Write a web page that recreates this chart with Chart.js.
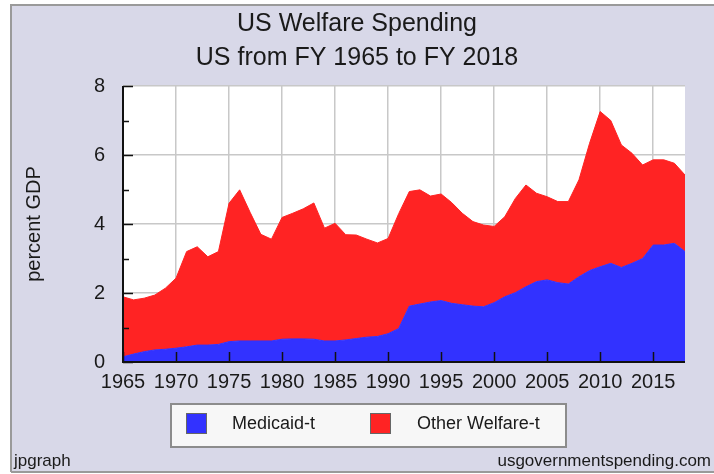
<!DOCTYPE html>
<html>
<head>
<meta charset="utf-8">
<script src="https://cdn.jsdelivr.net/npm/chart.js@4.4.1/dist/chart.umd.min.js"></script>
<style>
  html, body { margin: 0; padding: 0; background: #ffffff; }
  #wrap { width: 714px; height: 474px; position: relative; }
</style>
</head>
<body>
<div id="wrap"><canvas id="c" width="714" height="474"></canvas></div>
<script>
const years = [1965,1966,1967,1968,1969,1970,1971,1972,1973,1974,1975,1976,1977,1978,1979,1980,1981,1982,1983,1984,1985,1986,1987,1988,1989,1990,1991,1992,1993,1994,1995,1996,1997,1998,1999,2000,2001,2002,2003,2004,2005,2006,2007,2008,2009,2010,2011,2012,2013,2014,2015,2016,2017,2018];

const medicaid = [0.15,0.23,0.30,0.35,0.37,0.40,0.44,0.49,0.49,0.51,0.59,0.61,0.61,0.61,0.61,0.66,0.67,0.67,0.66,0.61,0.61,0.64,0.68,0.72,0.74,0.82,0.97,1.62,1.68,1.74,1.78,1.70,1.66,1.62,1.60,1.72,1.89,2.01,2.18,2.33,2.38,2.30,2.26,2.47,2.65,2.76,2.86,2.74,2.86,3.00,3.39,3.39,3.44,3.20];

const otherWelfare = [1.74,1.57,1.55,1.59,1.77,2.03,2.76,2.85,2.56,2.69,4.01,4.38,3.72,3.09,2.95,3.53,3.64,3.77,3.95,3.27,3.41,3.05,3.00,2.84,2.71,2.76,3.33,3.32,3.31,3.07,3.09,2.92,2.65,2.45,2.37,2.21,2.32,2.73,2.95,2.56,2.41,2.35,2.39,2.81,3.69,4.50,4.14,3.55,3.19,2.71,2.47,2.47,2.32,2.22];

const yTicks = [0, 2, 4, 6, 8];
const xTickYears = [1965,1970,1975,1980,1985,1990,1995,2000,2005,2010,2015];
const seriesNames = ['Medicaid-t', 'Other Welfare-t'];
const titleLines = ['US Welfare Spending', 'US from FY 1965 to FY 2018'];
const yAxisTitle = 'percent GDP';
const footerLeft = 'jpgraph';
const footerRight = 'usgovernmentspending.com';

const FONT = "'Liberation Sans', Arial, sans-serif";
const BLUE = '#3232ff';
const RED = '#ff2323';
const LAVENDER = '#d8d8e8';

const decorPlugin = {
  id: 'decor',
  beforeDraw(chart) {
    const ctx = chart.ctx;
    const a = chart.chartArea;
    ctx.save();
    ctx.fillStyle = '#ffffff';
    ctx.fillRect(0, 0, chart.width, chart.height);
    ctx.fillStyle = LAVENDER;
    ctx.fillRect(10, 5, chart.width - 10, chart.height - 7);
    ctx.strokeStyle = '#9a9a9a';
    ctx.lineWidth = 2;
    ctx.beginPath();
    ctx.moveTo(11, chart.height - 2);
    ctx.lineTo(11, 5);
    ctx.lineTo(chart.width, 5);
    ctx.moveTo(11, chart.height - 2);
    ctx.lineTo(chart.width, chart.height - 2);
    ctx.stroke();
    ctx.fillStyle = '#ffffff';
    ctx.fillRect(a.left, a.top, a.right - a.left, a.bottom - a.top);
    ctx.restore();
  },
  afterDatasetsDraw(chart) {
    const ctx = chart.ctx;
    const a = chart.chartArea;
    const xs = chart.scales.x, ys = chart.scales.y;
    ctx.save();
    ctx.strokeStyle = '#111111';
    ctx.lineWidth = 2;
    ctx.beginPath();
    ctx.moveTo(a.left, a.top);
    ctx.lineTo(a.left, a.bottom);
    ctx.lineTo(a.right, a.bottom);
    ctx.stroke();
    ctx.lineWidth = 1.5;
    ctx.beginPath();
    for (let v = 0; v <= 8; v++) {
      const py = Math.round(ys.getPixelForValue(v)) + 0.5;
      const len = (v % 2 === 0) ? 10 : 6;
      ctx.moveTo(a.left, py);
      ctx.lineTo(a.left + len, py);
    }
    xTickYears.forEach(yr => {
      const px = Math.round(xs.getPixelForValue(years.indexOf(yr))) + 0.5;
      ctx.moveTo(px, a.bottom);
      ctx.lineTo(px, a.bottom - 10);
    });
    ctx.stroke();
    ctx.restore();
  },
  afterDraw(chart) {
    const ctx = chart.ctx;
    ctx.save();
    // title
    ctx.fillStyle = '#1a1a1a';
    ctx.font = '25px ' + FONT;
    ctx.textAlign = 'center';
    ctx.textBaseline = 'middle';
    ctx.fillText(titleLines[0], 357, 24);
    ctx.fillText(titleLines[1], 357, 58);
    // legend box
    const bx = 171, by = 404, bw = 395, bh = 43;
    ctx.fillStyle = '#f7f7f7';
    ctx.fillRect(bx, by, bw, bh);
    ctx.strokeStyle = '#8c8c8c';
    ctx.lineWidth = 2;
    ctx.strokeRect(bx, by, bw, bh);
    const items = [
      { sx: 186, tx: 232 },
      { sx: 370, tx: 417 }
    ];
    chart.data.datasets.forEach((ds, i) => {
      const it = items[i];
      ctx.fillStyle = ds.backgroundColor;
      ctx.fillRect(it.sx, 413, 21, 21);
      ctx.strokeStyle = '#666666';
      ctx.lineWidth = 1;
      ctx.strokeRect(it.sx + 0.5, 413.5, 20, 20);
      ctx.fillStyle = '#1a1a1a';
      ctx.font = '18px ' + FONT;
      ctx.textAlign = 'left';
      ctx.textBaseline = 'middle';
      ctx.fillText(ds.label, it.tx, 424);
    });
    // footer
    ctx.fillStyle = '#1a1a1a';
    ctx.font = '17px ' + FONT;
    ctx.textBaseline = 'alphabetic';
    ctx.textAlign = 'left';
    ctx.fillText(footerLeft, 14, 466);
    ctx.textAlign = 'right';
    ctx.fillText(footerRight, 711, 466);
    ctx.restore();
  }
};

const ctx = document.getElementById('c').getContext('2d');
new Chart(ctx, {
  type: 'line',
  data: {
    labels: years,
    datasets: [
      {
        label: seriesNames[0],
        data: medicaid,
        backgroundColor: BLUE,
        borderColor: BLUE,
        borderWidth: 1,
        pointRadius: 0,
        tension: 0,
        fill: 'origin'
      },
      {
        label: seriesNames[1],
        data: otherWelfare,
        backgroundColor: RED,
        borderColor: RED,
        borderWidth: 1,
        pointRadius: 0,
        tension: 0,
        fill: '-1'
      }
    ]
  },
  options: {
    responsive: false,
    animation: false,
    devicePixelRatio: 1,
    layout: { padding: { left: 0, right: 29, top: 86, bottom: 0 } },
    plugins: {
      legend: { display: false },
      tooltip: { enabled: false },
      title: { display: false }
    },
    scales: {
      x: {
        type: 'category',
        offset: false,
        grid: {
          drawTicks: false,
          lineWidth: 1.5,
          color: (c) => {
            const yr = years[c.index];
            return (yr % 5 === 0 && yr !== 1965) ? '#c8c8c8' : 'rgba(0,0,0,0)';
          }
        },
        border: { display: false },
        ticks: {
          autoSkip: false,
          maxRotation: 0,
          minRotation: 0,
          padding: 8,
          color: '#1a1a1a',
          font: { family: FONT, size: 20 },
          callback: function (val, idx) {
            const yr = years[idx];
            return xTickYears.includes(yr) ? String(yr) : '';
          }
        },
        afterFit: (s) => { s.height = 112; }
      },
      y: {
        stacked: true,
        min: 0,
        max: 8,
        afterBuildTicks: (s) => { s.ticks = yTicks.map(v => ({ value: v })); },
        grid: {
          drawTicks: false,
          lineWidth: 1.5,
          color: (c) => (c.tick && c.tick.value === 0) ? 'rgba(0,0,0,0)' : '#c8c8c8'
        },
        border: { display: false },
        ticks: {
          padding: 18,
          color: '#1a1a1a',
          font: { family: FONT, size: 20 }
        },
        title: {
          display: true,
          text: yAxisTitle,
          color: '#1a1a1a',
          font: { family: FONT, size: 20 },
          padding: { top: 22, bottom: 0 }
        },
        afterFit: (s) => { s.width = 123; }
      }
    }
  },
  plugins: [decorPlugin]
});
</script>
</body>
</html>
